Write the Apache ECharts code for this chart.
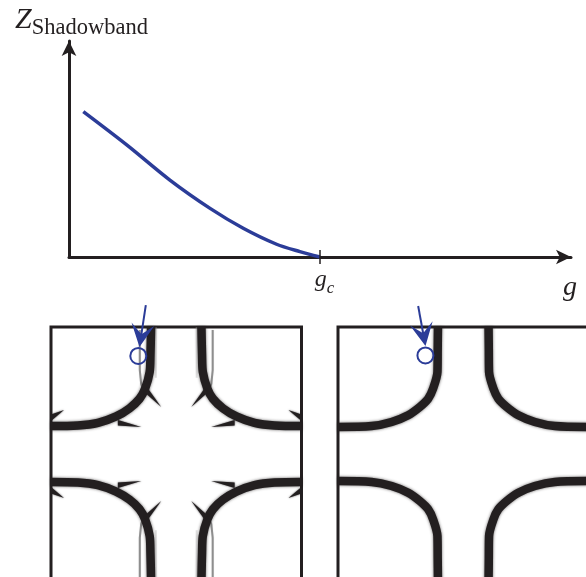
<!DOCTYPE html>
<html>
<head>
<meta charset="utf-8">
<script src="https://cdn.jsdelivr.net/npm/echarts@6/dist/echarts.min.js"></script>
<style>
  html, body { margin: 0; padding: 0; background: #fff; }
  #chart { width: 586px; height: 577px; }
</style>
</head>
<body>
<div id="chart"></div>
<script>
// Shadow-band weight Z versus coupling g; it vanishes at g = g_c (= 1 here)
const couplingG = [0.057, 0.230, 0.402, 0.562, 0.694, 0.827, 0.920, 1.0];
const zShadow   = [0.673, 0.519, 0.356, 0.225, 0.133, 0.059, 0.025, 0.0];
const gCritical = 1;
const gTickHalf = 0.032;            // half height of the g_c tick, in units of Z

// Fermi surface in the upper-left quadrant (kx, ky in units of pi);
// the other three quadrants follow by reflection kx -> -kx, ky -> -ky
const fsBelowGc = [[-0.201, 1.0], [-0.206, 0.777], [-0.212, 0.646], [-0.249, 0.514], [-0.293, 0.435],
                   [-0.373, 0.360], [-0.480, 0.296], [-0.625, 0.245], [-0.785, 0.224], [-1.0, 0.22]];
const fsAboveGc = [[-0.202, 1.0], [-0.204, 0.82], [-0.206, 0.646], [-0.241, 0.514], [-0.280, 0.435],
                   [-0.347, 0.370], [-0.440, 0.305], [-0.572, 0.252], [-0.731, 0.220], [-1.0, 0.213]];

// Shadow-band remnants below g_c: faint streaks and tapered spikes (x1,y1, x2,y2, tipX,tipY)
const shadowStreakOuter = [[-0.291, 0.976], [-0.291, 0.661], [-0.280, 0.551], [-0.258, 0.490]];
const shadowStreakInner = [[-0.163, 1.0], [-0.163, 0.60]];
const shadowSpikes = [
  [-0.223, 0.512, -0.251, 0.485, -0.120, 0.370],
  [-0.466, 0.268, -0.466, 0.224, -0.279, 0.213],
  [-1.0, 0.311, -1.0, 0.260, -0.896, 0.346]
];

// Probe markers: arrow from above and the circled k point
const probeArrowBelowGc = [[-0.243, 1.173], [-0.280, 0.932]];
const probeArrowAboveGc = [[-0.360, 1.165], [-0.318, 0.939]];
const probeBelowGc = [-0.303, 0.772];
const probeAboveGc = [-0.302, 0.776];

const INK = '#231f20';
const BLUE = '#2b3c98';
const MATH = "'Liberation Serif', 'DejaVu Serif', serif";
const ARROW_HEAD = 'path://M0,0 L8,23 L0,13 L-8,23 Z';

const quadrants = [[1, 1], [-1, 1], [1, -1], [-1, -1]];
const reflect = (pts, sx, sy) => pts.map(p => [p[0] * sx, p[1] * sy]);

function fermiSurface(pts, gi) {
  return quadrants.map(([sx, sy]) => ({
    type: 'line', xAxisIndex: gi, yAxisIndex: gi, silent: true, z: 3,
    data: reflect(pts, sx, sy), showSymbol: false, smooth: 0.3,
    lineStyle: { color: INK, width: 8.5, shadowBlur: 3, shadowColor: 'rgba(35,31,32,0.7)' }
  }));
}

function streaks(gi) {
  const out = [];
  quadrants.forEach(([sx, sy]) => {
    out.push({
      type: 'line', xAxisIndex: gi, yAxisIndex: gi, silent: true, z: 2,
      data: reflect(shadowStreakOuter, sx, sy), showSymbol: false,
      lineStyle: { color: 'rgba(95,95,95,0.6)', width: 2, shadowBlur: 1, shadowColor: 'rgba(95,95,95,0.5)' }
    });
    out.push({
      type: 'line', xAxisIndex: gi, yAxisIndex: gi, silent: true, z: 2,
      data: reflect(shadowStreakInner, sx, sy), showSymbol: false,
      lineStyle: { color: 'rgba(170,170,170,0.35)', width: 2 }
    });
  });
  return out;
}

function spikes(gi) {
  const data = [];
  quadrants.forEach(([sx, sy]) => shadowSpikes.forEach(s =>
    data.push([s[0] * sx, s[1] * sy, s[2] * sx, s[3] * sy, s[4] * sx, s[5] * sy])));
  return {
    type: 'custom', xAxisIndex: gi, yAxisIndex: gi, clip: true, silent: true, z: 4, data,
    renderItem: (params, api) => ({
      type: 'polygon',
      shape: { points: [
        api.coord([api.value(0), api.value(1)]),
        api.coord([api.value(2), api.value(3)]),
        api.coord([api.value(4), api.value(5)])
      ] },
      style: { fill: INK, shadowBlur: 2, shadowColor: 'rgba(35,31,32,0.8)' }
    })
  };
}

function probe(arrow, point, gi) {
  return [{
    type: 'lines', coordinateSystem: 'cartesian2d', xAxisIndex: gi, yAxisIndex: gi,
    clip: false, silent: true, z: 6,
    symbol: ['none', ARROW_HEAD], symbolSize: [16, 23],
    lineStyle: { color: BLUE, width: 2, opacity: 1, curveness: 0 },
    data: [{ coords: arrow }]
  }, {
    type: 'scatter', xAxisIndex: gi, yAxisIndex: gi, clip: false, silent: true, z: 6,
    symbol: 'circle', symbolSize: 16, data: [point],
    itemStyle: { color: 'rgba(0,0,0,0)', borderColor: BLUE, borderWidth: 2, opacity: 1 }
  }];
}

const panelAxis = gi => ({ gridIndex: gi, type: 'value', min: -1, max: 1, show: false });

const option = {
  backgroundColor: '#fff',
  animation: false,
  grid: [
    { left: 69, top: 41, width: 502, height: 216, outerBoundsMode: 'none' },
    { left: 51, top: 327, width: 250.5, height: 254, show: true, borderColor: INK, borderWidth: 3,
      backgroundColor: 'rgba(0,0,0,0)', outerBoundsMode: 'none' },
    { left: 338, top: 327, width: 250.5, height: 254, show: true, borderColor: INK, borderWidth: 3,
      backgroundColor: 'rgba(0,0,0,0)', outerBoundsMode: 'none' }
  ],
  xAxis: [
    {
      gridIndex: 0, type: 'value', min: 0, max: 2,
      axisLine: { show: true, lineStyle: { color: INK, width: 3 }, symbol: ['none', 'arrow'], symbolSize: [11, 15] },
      axisTick: { show: false }, splitLine: { show: false },
      axisLabel: {
        show: true, customValues: [gCritical], margin: 16, padding: [0, 0, 0, 9],
        formatter: v => (Math.abs(v - gCritical) < 1e-9 ? '{g|g}{c|c}' : ''),
        rich: {
          g: { fontFamily: MATH, fontStyle: 'italic', fontSize: 24, lineHeight: 24, padding: [0, 0, 5, 0], verticalAlign: 'bottom', color: INK },
          c: { fontFamily: MATH, fontStyle: 'italic', fontSize: 17, lineHeight: 17, verticalAlign: 'bottom', color: INK }
        }
      },
      name: 'g', nameLocation: 'end', nameGap: -8,
      nameTextStyle: { fontFamily: MATH, fontStyle: 'italic', fontSize: 28, color: INK, verticalAlign: 'top', lineHeight: 61 }
    },
    panelAxis(1), panelAxis(2)
  ],
  yAxis: [
    {
      gridIndex: 0, type: 'value', min: 0, max: 1,
      axisLine: { show: true, onZero: false, lineStyle: { color: INK, width: 3 }, symbol: ['none', 'arrow'], symbolSize: [11, 15] },
      axisTick: { show: false }, axisLabel: { show: false }, splitLine: { show: false },
      name: '{z|Z}{s|Shadowband}', nameLocation: 'end', nameGap: 1.5,
      nameTextStyle: {
        padding: [0, 0, 0, 25],
        rich: {
          z: { fontFamily: MATH, fontStyle: 'italic', fontSize: 30, lineHeight: 30, padding: [0, 0, 4, 0], verticalAlign: 'bottom', color: INK },
          s: { fontFamily: MATH, fontSize: 22.5, lineHeight: 22, verticalAlign: 'bottom', color: INK }
        }
      }
    },
    panelAxis(1), panelAxis(2)
  ],
  series: [
    {
      type: 'line', xAxisIndex: 0, yAxisIndex: 0, silent: true, z: 5, clip: false,
      data: couplingG.map((g, i) => [g, zShadow[i]]), showSymbol: false, smooth: 0.3,
      lineStyle: { color: BLUE, width: 3.5 }
    },
    {
      type: 'lines', coordinateSystem: 'cartesian2d', xAxisIndex: 0, yAxisIndex: 0,
      clip: false, silent: true, z: 6,
      lineStyle: { color: INK, width: 1.5, opacity: 1, curveness: 0 },
      data: [{ coords: [[gCritical, -gTickHalf], [gCritical, gTickHalf]] }]
    },
    ...streaks(1),
    ...fermiSurface(fsBelowGc, 1),
    spikes(1),
    ...probe(probeArrowBelowGc, probeBelowGc, 1),
    ...fermiSurface(fsAboveGc, 2),
    ...probe(probeArrowAboveGc, probeAboveGc, 2)
  ]
};

const chart = echarts.init(document.getElementById('chart'), null, { renderer: 'canvas' });
chart.setOption(option);
</script>
</body>
</html>
